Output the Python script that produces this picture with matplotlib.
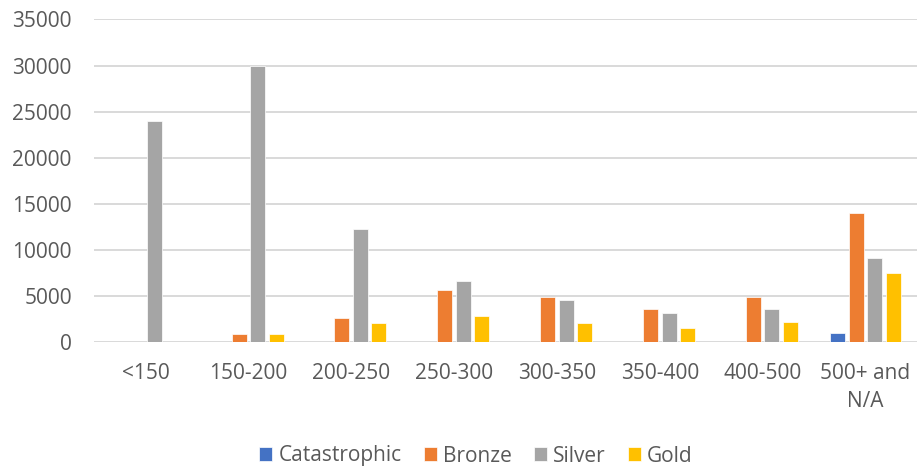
import matplotlib.pyplot as plt
import numpy as np

categories = ["<150", "150-200", "200-250", "250-300", "300-350", "350-400", "400-500", "500+ and\nN/A"]
catastrophic = [0, 0, 0, 0, 0, 0, 0, 950]
bronze = [0, 870, 2650, 5670, 4880, 3580, 4880, 13950]
silver = [24000, 29900, 12300, 6650, 4560, 3180, 3580, 9110]
gold = [0, 870, 2060, 2790, 2060, 1490, 2200, 7450]

series = [("Catastrophic", catastrophic, "#4472C4"),
          ("Bronze", bronze, "#ED7D31"),
          ("Silver", silver, "#A5A5A5"),
          ("Gold", gold, "#FFC000")]

plt.rcParams["font.family"] = ["Open Sans", "DejaVu Sans"]
text_col = "#595959"

fig = plt.figure(figsize=(9.18, 4.66), dpi=100)
ax = fig.add_axes([94 / 918, 124 / 466, 823 / 918, 322.5 / 466])

x = np.arange(len(categories))
width = 0.146
pitch = 0.18
for i, (name, vals, col) in enumerate(series):
    ax.bar(x + (i - 1.5) * pitch, vals, width, color=col, label=name,
           edgecolor="white", linewidth=0.5, zorder=3)

ax.set_xlim(-0.5, len(categories) - 0.5)
ax.set_ylim(0, 35000)
ax.set_yticks(np.arange(0, 35001, 5000))
ax.yaxis.grid(True, color="#d9d9d9", linewidth=1.4, zorder=0)
ax.set_axisbelow(True)
for s in ax.spines.values():
    s.set_visible(False)
ax.tick_params(length=0, labelsize=15, colors=text_col)
ax.tick_params(axis="y", pad=16)
ax.set_xticks(x)
ax.set_xticklabels(categories, linespacing=1.45, va="top")
ax.tick_params(axis="x", pad=15)

fig.legend(loc="center", bbox_to_anchor=(476 / 918, 1 - 456 / 466), ncol=4,
           frameon=False, fontsize=15, handlelength=0.63, handleheight=0.63,
           handletextpad=0.3, columnspacing=1.05, labelcolor=text_col)

fig.savefig("out.png", dpi=100)
